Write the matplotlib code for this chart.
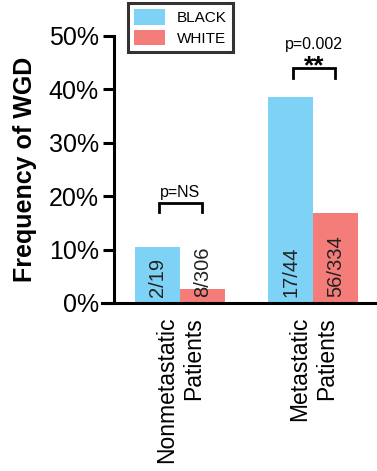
import numpy as np
import matplotlib
matplotlib.use("Agg")
from matplotlib import pyplot as plt
from matplotlib.patches import Patch

plt.rcParams['font.family'] = ['Liberation Sans', 'DejaVu Sans']

# WGD counts per group (positive / total)
groups = ['Nonmetastatic\nPatients', 'Metastatic\nPatients']
black_pos = [2, 17]
black_tot = [19, 44]
white_pos = [8, 56]
white_tot = [306, 334]
p_labels = ['p=NS', 'p=0.002']
stars = ['', '**']

black_pct = [100 * p / t for p, t in zip(black_pos, black_tot)]
white_pct = [100 * p / t for p, t in zip(white_pos, white_tot)]

c_black = '#7ED2F5'
c_white = '#F47C79'

fig = plt.figure(figsize=(3.77, 4.71), dpi=100)
ax = fig.add_axes([0.2706, 0.3567, 0.7294, 0.5669])

# spine position first: moving it resets the tick styling
for s in ['top', 'right']:
    ax.spines[s].set_visible(False)
ax.spines['left'].set_position(('data', -0.496))
ax.spines['left'].set_linewidth(2.2)
ax.spines['bottom'].set_linewidth(2.2)

x = np.arange(len(groups))
w = 0.335
ax.bar(x - w / 2, black_pct, width=w, color=c_black)
ax.bar(x + w / 2, white_pct, width=w, color=c_white)

# fraction labels inside the bars
for i in range(len(groups)):
    ax.text(x[i] - w / 2, 1.1, f'{black_pos[i]}/{black_tot[i]}', rotation=90,
            ha='center', va='bottom', fontsize=14.5, color='#222222')
    ax.text(x[i] + w / 2, 1.1, f'{white_pos[i]}/{white_tot[i]}', rotation=90,
            ha='center', va='bottom', fontsize=14.5, color='#222222')

ax.set_xlim(-0.586, 1.481)
ax.set_ylim(0, 50)
ax.set_yticks([0, 10, 20, 30, 40, 50])
ax.set_yticklabels(['0%', '10%', '20%', '30%', '40%', '50%'], fontsize=18)
ax.set_xticks(x)
ax.set_xticklabels(groups, rotation=90, fontsize=16.5, ma='right')
ax.tick_params(axis='x', length=0, pad=10)
ax.tick_params(axis='y', length=8, width=2.2, pad=3)
ax.set_ylabel('Frequency of WGD', fontsize=18, fontweight='bold', labelpad=8)

# significance brackets
brackets = [(-0.157, 0.164, 18.7, 17.0), (0.85, 1.165, 44.0, 42.1)]
for i, (x0, x1, top, bot) in enumerate(brackets):
    ax.plot([x0, x0, x1, x1], [bot, top, top, bot], color='black', lw=2.0,
            solid_joinstyle='miter', clip_on=False)
    xm = (x0 + x1) / 2
    if stars[i]:
        ax.text(xm, 44.3, stars[i], ha='center', va='center',
                fontsize=19, fontweight='bold')
        ax.text(xm, 48.4, p_labels[i], ha='center', va='center', fontsize=11.5)
    else:
        ax.text(xm, top + 0.6, p_labels[i], ha='center', va='bottom', fontsize=11.5)

handles = [Patch(facecolor=c_black, label='BLACK'), Patch(facecolor=c_white, label='WHITE')]
leg = fig.legend(handles=handles, loc='upper left', bbox_to_anchor=(128 / 377, 1 - 3 / 471),
                 borderaxespad=0, fontsize=11, frameon=True, fancybox=False, edgecolor='black',
                 handlelength=2.0, handleheight=1.2, borderpad=0.4, labelspacing=0.3,
                 handletextpad=0.8)
leg.get_frame().set_linewidth(2.2)

fig.savefig('out.png', dpi=100)
